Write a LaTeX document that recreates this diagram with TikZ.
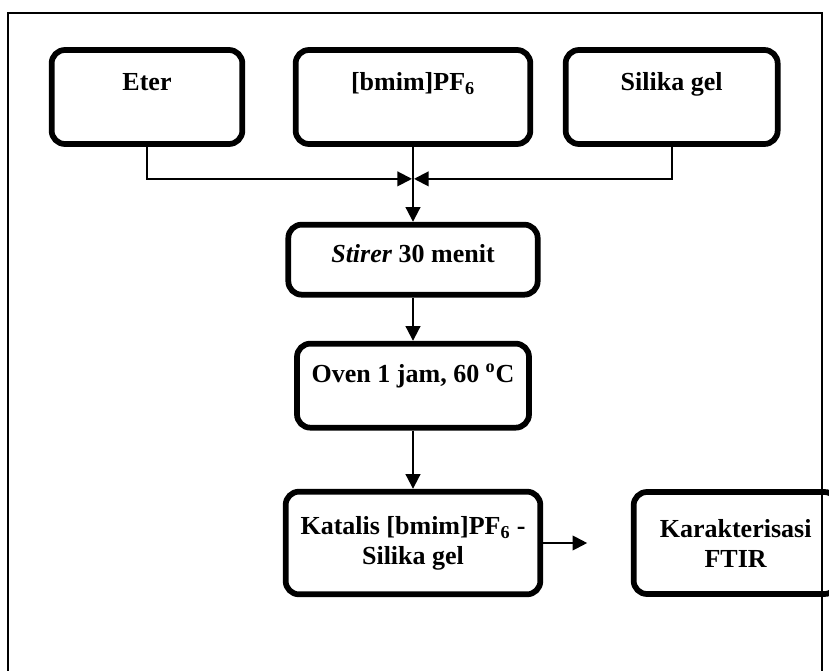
\documentclass[tikz,border=0pt]{standalone}
\usepackage{fontspec}
\setmainfont{Liberation Serif}
\usetikzlibrary{arrows.meta}

\begin{document}
\begin{tikzpicture}[->,>={Triangle[length=11pt,width=11pt]},line width=1.5pt,
                    x=0.75pt,y=-0.75pt,node distance=200pt,
                    font=\fontsize{19.5}{22.5}\selectfont\bfseries]
  \tikzstyle{stepbox}=[draw=black,line width=4.3pt,rounded corners=10pt,
                       inner sep=0pt,align=center]
  \tikzstyle{toprow}=[stepbox,text height=30pt,text depth=40.5pt]

  \useasboundingbox (0,0) rectangle (829,671);
  \draw[-,line width=1.2pt] (8,13) rectangle (822,700);

  \node[toprow,minimum width=143pt]  (eter)     at (147,97)                         {Eter};
  \node[toprow,minimum width=176pt]  (bmim)     [node distance=199.5pt,right of=eter] {[bmim]PF\textsubscript{6}};
  \node[toprow,minimum width=159pt]  (silika)   [node distance=194pt,right of=bmim]   {Silika gel};
  \node[stepbox,minimum width=187pt,
        text height=28.5pt,text depth=24pt]     (stir)     [node distance=122pt,below of=bmim]  {\textit{Stirer} 30 menit};
  \node[stepbox,minimum width=174pt,
        text height=29.25pt,text depth=33.75pt] (oven)     [node distance=94.5pt,below of=stir] {Oven 1 jam, 60 \textsuperscript{o}C};
  \node[stepbox,minimum width=191pt,
        minimum height=77pt]                    (katalis)  [node distance=118pt,below of=oven]  {Katalis [bmim]PF\textsubscript{6} -\\Silika gel};
  \node[stepbox,minimum width=153pt,
        minimum height=76.5pt]                  (ftir)     [node distance=242pt,right of=katalis] {Karakterisasi\\FTIR};

  \coordinate (mix)  at ([yshift=-24pt]bmim.south);
  \coordinate (kout) at ([xshift=33pt]katalis.east);

  \draw (eter.south)   |- ([xshift=-0.75pt]mix);
  \draw (silika.south) |- ([xshift=0.75pt]mix);
  \draw (bmim)    -- (stir);
  \draw (stir)    -- (oven);
  \draw (oven)    -- (katalis);
  \draw (katalis) -- (kout);
\end{tikzpicture}
\end{document}
